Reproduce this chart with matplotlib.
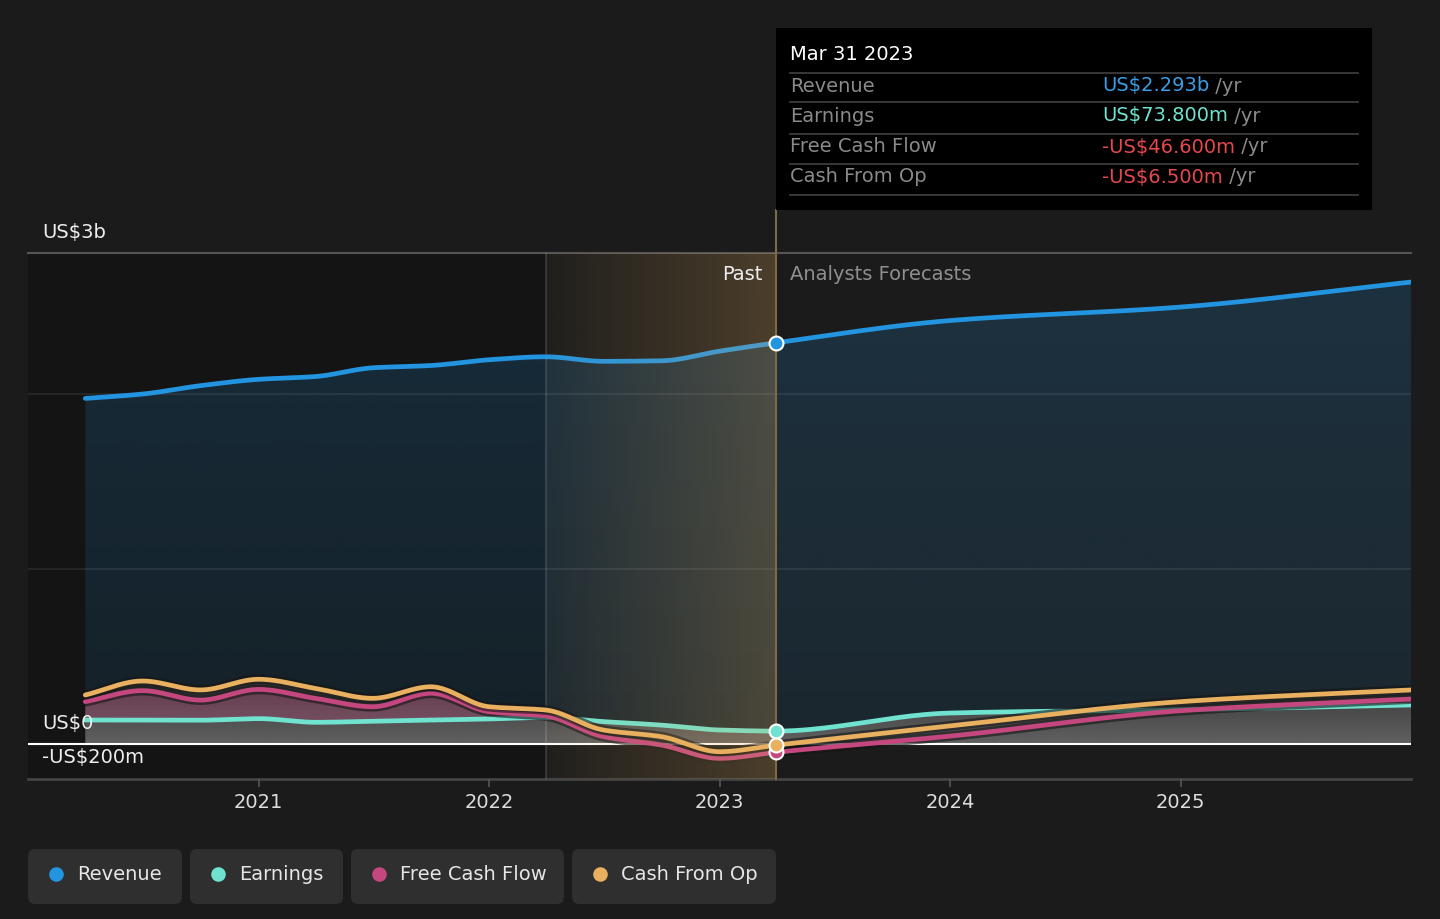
import numpy as np
import pandas as pd
import matplotlib
matplotlib.use('Agg')
import matplotlib.pyplot as plt
import matplotlib.patheffects as pe
from matplotlib.patches import FancyBboxPatch, Rectangle, Polygon
from matplotlib.lines import Line2D
from matplotlib.text import Annotation

W, H = 1440, 919

# данные (млрд US$), квартальные до Mar 31 2023, далее прогнозы аналитиков
past_dates = ['2020-03-31', '2020-06-30', '2020-09-30', '2020-12-31',
              '2021-03-31', '2021-06-30', '2021-09-30', '2021-12-31',
              '2022-03-31', '2022-06-30', '2022-09-30', '2022-12-31',
              '2023-03-31']
fc_dates = ['2023-12-31', '2024-12-31', '2025-12-31']

revenue_past = [1.975, 2.000, 2.048, 2.084, 2.100, 2.150, 2.163, 2.196, 2.213, 2.187, 2.190, 2.245, 2.293]
earnings_past = [0.137, 0.137, 0.136, 0.145, 0.124, 0.130, 0.137, 0.143, 0.152, 0.128, 0.108, 0.080, 0.0738]
fcf_past = [0.242, 0.305, 0.251, 0.312, 0.261, 0.213, 0.290, 0.185, 0.160, 0.042, -0.006, -0.082, -0.0466]
cfo_past = [0.280, 0.360, 0.309, 0.370, 0.318, 0.261, 0.327, 0.213, 0.194, 0.080, 0.042, -0.044, -0.0065]

revenue_fc = [2.420, 2.497, 2.640]
earnings_fc = [0.177, 0.196, 0.223]
fcf_fc = [0.045, 0.190, 0.257]
cfo_fc = [0.103, 0.242, 0.309]

names = ['Revenue', 'Earnings', 'Free Cash Flow', 'Cash From Op']
colors = ['#2394df', '#6fe3cf', '#c4487f', '#e8b05f']

highlight_start = '2022-03-31'
current = '2023-03-31'


def frac_year(s):
    d = pd.Timestamp(s)
    days = 366 if d.is_leap_year else 365
    return d.year + d.dayofyear / days


def smooth(x, y, n=40):
    # монотонная кубическая кривая для отрисовки (как в исходном графике)
    x = np.asarray(x, float)
    y = np.asarray(y, float)
    h = np.diff(x)
    d = np.diff(y) / h
    m = np.zeros_like(y)
    m[0], m[-1] = d[0], d[-1]
    for k in range(1, len(y) - 1):
        if d[k - 1] * d[k] > 0:
            w1 = 2 * h[k] + h[k - 1]
            w2 = h[k] + 2 * h[k - 1]
            m[k] = (w1 + w2) / (w1 / d[k - 1] + w2 / d[k])
    xs, ys = [], []
    for k in range(len(h)):
        t = np.linspace(0, 1, n, endpoint=(k == len(h) - 1))
        h00 = 2 * t**3 - 3 * t**2 + 1
        h10 = t**3 - 2 * t**2 + t
        h01 = -2 * t**3 + 3 * t**2
        h11 = t**3 - t**2
        xs.append(x[k] + t * h[k])
        ys.append(h00 * y[k] + h10 * h[k] * m[k] + h01 * y[k + 1] + h11 * h[k] * m[k + 1])
    return np.concatenate(xs), np.concatenate(ys)


def gradient_fill(ax, xs, lo, hi, rgb, y0, y1, a0, a1, z):
    # вертикальный градиент, обрезанный по области между lo и hi
    verts = np.column_stack([np.r_[xs, xs[::-1]], np.r_[hi, lo[::-1]]])
    poly = Polygon(verts, closed=True, transform=ax.transData, facecolor='none', edgecolor='none')
    ax.add_patch(poly)
    img = np.zeros((256, 1, 4))
    img[..., :3] = matplotlib.colors.to_rgb(rgb)
    img[:, 0, 3] = np.linspace(a0, a1, 256)
    im = ax.imshow(img, extent=[xs[0] - 1, xs[-1] + 1, y0, y1], origin='lower', aspect='auto',
                   zorder=z, interpolation='bilinear')
    im.set_clip_path(poly)
    return verts


xp = [frac_year(s) for s in past_dates]
xf = [frac_year(s) for s in fc_dates]
x_all = xp + xf
x0 = frac_year(highlight_start)
xc = frac_year(current)

series = [revenue_past + revenue_fc, earnings_past + earnings_fc,
          fcf_past + fcf_fc, cfo_past + cfo_fc]
curves = [smooth(x_all, s) for s in series]

bg = '#1b1b1b'
fig = plt.figure(figsize=(W / 100, H / 100), dpi=100, facecolor=bg)


def fx(px):
    return px / W


def fy(py):
    return 1 - py / H


ax = fig.add_axes([fx(28), fy(779), fx(1411) - fx(28), fy(253) - fy(779)])
ax.set_facecolor(bg)
ymin, ymax = -0.2, 2.806
for s in ax.spines.values():
    s.set_visible(False)

# затемнение прошлого
ax.axvspan(2020, x0, color='#000000', alpha=0.25, lw=0, zorder=0.5)

# заливка выручки
sx, sy = curves[0]
zero = np.zeros_like(sx)
gradient_fill(ax, sx, zero, sy, colors[0], 0, 2.7, 0.10, 0.19, 1)

# заливка денежных потоков: непрозрачная подложка + серый градиент
cash_top = np.max([curves[i][1] for i in (1, 2, 3)], axis=0)
verts = np.column_stack([np.r_[sx, sx[::-1]], np.r_[cash_top, zero]])
ax.add_patch(Polygon(verts, closed=True, facecolor=bg, edgecolor='none', zorder=1.1))
gradient_fill(ax, sx, zero, cash_top, '#ffffff', 0, 0.4, 0.31, 0.1, 1.2)
gradient_fill(ax, sx, np.minimum(cash_top, 0), zero, '#6a4a40', -0.1, 0, 0.5, 0.3, 1.2)
ex, ey = curves[1]
fcf_y = curves[2][1]
ax.fill_between(ex, ey, fcf_y, where=fcf_y > ey, color=colors[2], alpha=0.3, lw=0, zorder=1.3,
                interpolate=True)

# сетка
for g in [1, 2]:
    ax.axhline(g, color='#ffffff', alpha=0.09, lw=1.2, zorder=1.5)
ax.axhline(ymax, color='#555555', lw=1.5, zorder=1.5, clip_on=False)
ax.axhline(ymin, color='#444444', lw=2, zorder=1.5, clip_on=False)
ax.axhline(0, color='#ffffff', lw=1.5, zorder=3)
ax.axvline(x0, color='#ffffff', alpha=0.15, lw=1.2, zorder=1.5)

# линии
shadow = [pe.Stroke(linewidth=7, foreground='#151515', alpha=0.6), pe.Normal()]
for i in [0, 1, 2, 3]:
    sx_i, sy_i = curves[i]
    ax.plot(sx_i, sy_i, color=colors[i], lw=3.4, zorder=4, solid_capstyle='round',
            path_effects=shadow if i >= 2 else None)

# подсветка последнего года (градиент)
grad = np.zeros((1, 256, 4))
grad[..., :3] = matplotlib.colors.to_rgb('#e8b05f')
grad[..., 3] = np.linspace(0.03, 0.24, 256)
ax.imshow(grad, extent=[x0, xc, ymin, ymax], aspect='auto', zorder=5, interpolation='bilinear')
ax.set_xlim(2020, 2026)
ax.set_ylim(ymin, ymax)
ax.axvline(xc, ymin=0, ymax=(779 - 210) / (779 - 253), color='#7d6b48', lw=1.5, zorder=5, clip_on=False)

# точки на текущую дату
idx = len(xp) - 1
for i in [0, 1, 2, 3]:
    ax.plot(xc, series[i][idx], 'o', ms=10, color=colors[i], mec='white', mew=1.5,
            zorder=6 + (i == 3) * 0.5)

# оси
years = [2021, 2022, 2023, 2024, 2025]
ax.set_xticks(years)
ax.set_xticklabels([str(y) for y in years])
ax.tick_params(axis='x', colors='#555555', length=6, width=1.2, labelcolor='#dddddd',
               labelsize=14, pad=4)
ax.set_yticks([])

fs = 14
ylabels = [('US$3b', ymax), ('US$0', 0), ('-US$200m', ymin)]
for lab, yv in ylabels:
    ax.annotate(lab, xy=(0, yv), xycoords=('axes fraction', 'data'), xytext=(14 * 0.72, 21 * 0.72),
                textcoords='offset points', va='center', ha='left', color='#eeeeee', fontsize=fs, zorder=8,
                annotation_clip=False)

ax.annotate('Past', xy=(xc, ymax), xycoords='data', xytext=(-14 * 0.72, -21 * 0.72),
            textcoords='offset points', ha='right', va='center', color='#eeeeee', fontsize=fs, zorder=8)
ax.annotate('Analysts Forecasts', xy=(xc, ymax), xycoords='data', xytext=(14 * 0.72, -21 * 0.72),
            textcoords='offset points', ha='left', va='center', color='#8f8f8f', fontsize=fs, zorder=8)

# подсказка
fig.add_artist(Rectangle((fx(776), fy(210)), fx(1372) - fx(776), fy(28) - fy(210),
                         transform=fig.transFigure, facecolor='#000000', edgecolor='none', zorder=10))
for ly in [73, 102, 134, 164, 195]:
    fig.add_artist(Line2D([fx(790), fx(1358)], [fy(ly), fy(ly)], transform=fig.transFigure,
                          color='#3c3c3c', lw=1.3, zorder=11))
fig.text(fx(790), fy(55), 'Mar 31 2023', color='#ffffff', fontsize=fs, va='center', zorder=12)


def money(v):
    sign = '-' if v < 0 else ''
    a = abs(v)
    if a >= 1:
        return f'{sign}US${a:.3f}b'
    return f'{sign}US${a * 1000:.3f}m'


value_colors = ['#3a9ee6', '#6fe3cf']
rows_y = [86, 116, 147, 177]
for i, name in enumerate(names):
    v = series[i][idx]
    c = '#e5484d' if v < 0 else value_colors[i]
    fig.text(fx(790), fy(rows_y[i]), name, color='#8a8a8a', fontsize=fs, va='center', zorder=12)
    t = fig.text(fx(1102), fy(rows_y[i]), money(v), color=c, fontsize=fs, va='center', zorder=12)
    fig.add_artist(Annotation(' /yr', xy=(1, 0.5), xycoords=t, va='center', ha='left',
                              color='#8a8a8a', fontsize=fs, zorder=12))

# легенда
box_x = [(28, 182), (190, 343), (351, 564), (572, 776)]
for (bx0, bx1), name, c in zip(box_x, names, colors):
    p = FancyBboxPatch((fx(bx0), fy(904)), fx(bx1) - fx(bx0), fy(849) - fy(904),
                       boxstyle='round,pad=0,rounding_size=0.005', transform=fig.transFigure,
                       facecolor='#2f2f2f', edgecolor='none', mutation_aspect=W / H)
    fig.add_artist(p)
    fig.add_artist(Line2D([fx(bx0 + 28)], [fy(874)], marker='o', ms=10.5, color=c, mec='none',
                          transform=fig.transFigure))
    fig.text(fx(bx0 + 49), fy(874), name, color='#e6e6e6', fontsize=fs, va='center')

fig.savefig('out.png', dpi=100, facecolor=bg)
